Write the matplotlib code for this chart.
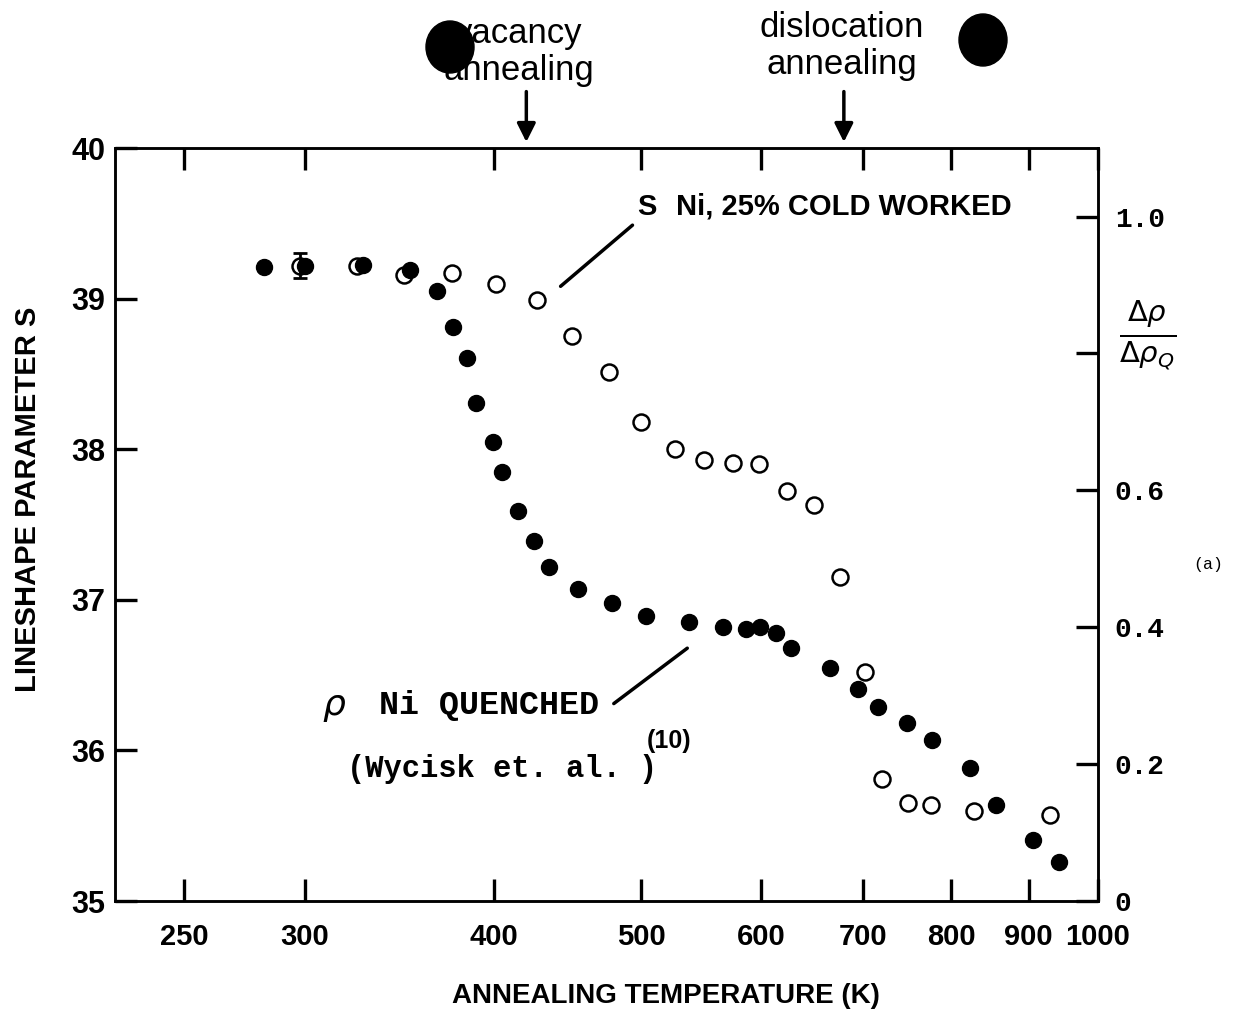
import numpy as np
import matplotlib
matplotlib.use('Agg')
import matplotlib.pyplot as plt
from matplotlib.patches import Ellipse

# open circles: lineshape parameter S (left axis), Ni 25% cold worked
s_temp = [298, 325, 349, 375, 401, 427, 450, 476, 500, 526, 550, 575, 598,
          624, 650, 676, 702, 721, 749, 776, 828, 930]
s_value = [39.22, 39.22, 39.16, 39.17, 39.10, 38.99, 38.75, 38.51, 38.18,
           38.00, 37.93, 37.91, 37.90, 37.72, 37.63, 37.15, 36.52, 35.81,
           35.65, 35.64, 35.60, 35.57]
# one error bar drawn on the first S point
err_temp = [298]
err_value = [39.22]
err_size = [0.08]

# filled circles: resistivity ratio (right axis), Ni quenched (Wycisk et al.)
rho_temp = [282, 300, 328, 352, 367, 376, 384, 389, 399, 405, 415, 425, 435,
            454, 478, 504, 538, 566, 586, 599, 613, 628, 666, 695, 716, 748,
            777, 823, 857, 906, 942]
rho_value = [0.926, 0.928, 0.929, 0.922, 0.891, 0.838, 0.793, 0.728, 0.671,
             0.627, 0.570, 0.526, 0.488, 0.456, 0.436, 0.416, 0.408, 0.400,
             0.398, 0.400, 0.391, 0.369, 0.340, 0.310, 0.283, 0.260, 0.235,
             0.195, 0.140, 0.0885, 0.0567]

x_ticks = [250, 300, 400, 500, 600, 700, 800, 900, 1000]
x_labels = ['250', '300', '400', '500', '600', '700', '800', '900', '1000']
s_ticks = [35, 36, 37, 38, 39, 40]
rho_ticks = [0, 0.2, 0.4, 0.6, 0.8, 1.0]
rho_labels = ['0', '0.2', '0.4', '0.6', '', '1.0']

vacancy_T = 420
dislocation_T = 680

sans = ['Liberation Sans', 'DejaVu Sans']
mono = ['Liberation Mono', 'DejaVu Sans Mono']

fig = plt.figure(figsize=(12.34, 10.10), dpi=100)
ax = fig.add_axes([0.0932, 0.1079, 0.7966, 0.7455])
ax2 = ax.twinx()

ax.plot(s_temp, s_value, 'o', ms=11.5, mfc='white', mec='black', mew=1.8,
        zorder=3)
ax.errorbar(err_temp, err_value, yerr=err_size, fmt='none', ecolor='black',
            elinewidth=2, capsize=5, capthick=2, zorder=3)
ax2.plot(rho_temp, rho_value, 'o', ms=11.5, color='black', zorder=4)

ax.set_xscale('log')
ax.set_xlim(225, 1000)
ax.set_ylim(35, 40)
ax2.set_ylim(0, 1.1)
ax.minorticks_off()
ax.set_xticks(x_ticks)
ax.set_xticklabels(x_labels)
ax.set_yticks(s_ticks)
ax2.set_yticks(rho_ticks)
ax2.set_yticklabels(rho_labels)

for a in (ax, ax2):
    for sp in a.spines.values():
        sp.set_linewidth(1.8)

ax.tick_params(axis='x', which='both', direction='in', top=True, length=16,
               width=2.4, pad=16)
ax.tick_params(axis='y', direction='in', right=False, length=16, width=2.4,
               pad=7)
ax2.tick_params(axis='y', direction='in', length=16, width=2.4, pad=12)

for lab in ax.get_xticklabels():
    lab.set_family(sans)
    lab.set_fontsize(21)
    lab.set_fontweight('bold')
for lab in ax.get_yticklabels():
    lab.set_family(sans)
    lab.set_fontsize(22)
    lab.set_fontweight('bold')
for lab in ax2.get_yticklabels():
    lab.set_family(mono)
    lab.set_fontsize(20)
    lab.set_fontweight('bold')

ax.set_ylabel('LINESHAPE PARAMETER S', family=sans, fontsize=21,
              fontweight='bold')
ax.yaxis.set_label_coords(-0.074, 0.533)
ax.set_xlabel('ANNEALING TEMPERATURE (K)', family=sans, fontsize=20,
              fontweight='bold')
ax.xaxis.set_label_coords(0.56, -0.109)

# right axis label
fig.text(0.930, 0.668, r'$\frac{\Delta\rho}{\Delta\rho_Q}$', fontsize=30,
         ha='center', va='center')

# curve annotations
ax.annotate('', xy=(441, 39.07), xytext=(495, 39.50),
            arrowprops=dict(arrowstyle='-', lw=2.5, color='black'))
ax.text(497, 39.61, 'S', family=sans, fontsize=21, fontweight='bold',
        ha='left', va='center')
ax.text(527, 39.61, 'Ni, 25% COLD WORKED', family=sans, fontsize=21,
        fontweight='bold', ha='left', va='center')

ax.annotate('', xy=(538, 36.69), xytext=(478, 36.30),
            arrowprops=dict(arrowstyle='-', lw=2.5, color='black'))
ax.text(314, 36.29, r'$\rho$', fontsize=26, ha='center', va='center')
ax.text(336, 36.30, 'Ni QUENCHED', family=mono, fontsize=24,
        fontweight='bold', ha='left', va='center')
ax.text(320, 35.88, '(Wycisk et. al. )', family=mono, fontsize=22,
        fontweight='bold', ha='left', va='center')
ax.text(504, 36.06, '(10)', family=sans, fontsize=18, fontweight='bold',
        ha='left', va='center')

# annealing stage markers above the frame
trans = ax.get_xaxis_transform()
for t in (vacancy_T, dislocation_T):
    ax.annotate('', xy=(t, 1.008), xycoords=trans, xytext=(t, 1.075),
                textcoords=trans,
                arrowprops=dict(arrowstyle='-|>', lw=2.5, color='black',
                                mutation_scale=28, shrinkA=0, shrinkB=0))
ax.text(415, 1.128, 'vacancy\nannealing', transform=trans, ha='center',
        va='center', fontsize=25, family=sans, linespacing=1.15,
        clip_on=False)
ax.text(678, 1.135, 'dislocation\nannealing', transform=trans, ha='center',
        va='center', fontsize=25, family=sans, linespacing=1.15,
        clip_on=False)

# scan blotches near the top labels
for cx, cy in ((450, 47), (983, 40)):
    fig.patches.append(Ellipse((cx / 1234, 1 - cy / 1010), 48 / 1234,
                               52 / 1010, transform=fig.transFigure,
                               color='black', zorder=5))

fig.text(0.979, 0.441, '(a)', family=mono, fontsize=12, ha='center',
         va='center')

fig.savefig('out.png', dpi=100)
